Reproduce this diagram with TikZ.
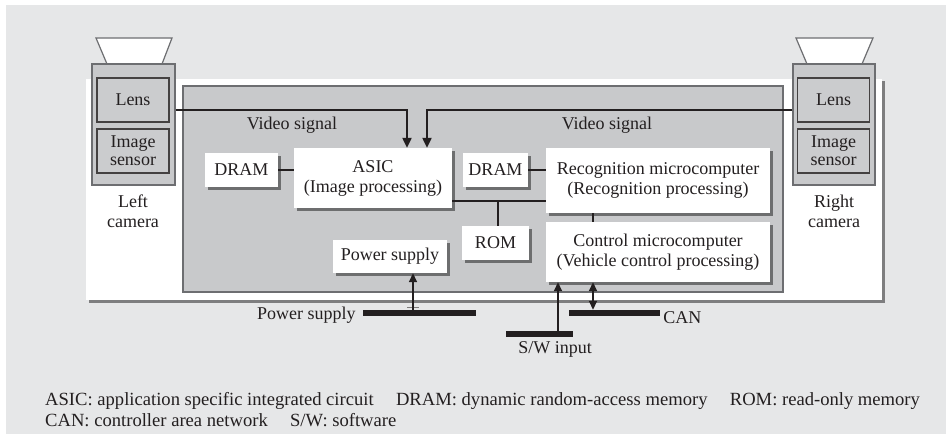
\documentclass[tikz,border=0pt]{standalone}
\usepackage{fontspec}
\setmainfont{Liberation Serif}
\usetikzlibrary{shadows,arrows.meta,calc}
\definecolor{bggray}{HTML}{E6E7E8}
\definecolor{midgray}{HTML}{C8C9CB}
\definecolor{lensgray}{HTML}{CBCCCE}
\definecolor{edgegray}{HTML}{6D6E71}
\definecolor{ink}{HTML}{231F20}
\begin{document}
\begin{tikzpicture}[x=1pt,y=-1pt,
  font=\fontsize{18}{20}\selectfont, text=ink,
  wbox/.style={fill=white, inner sep=0pt, align=center,
    drop shadow={shadow xshift=2.5pt, shadow yshift=-2.5pt, opacity=0.45, fill=black}},
  cambox/.style={fill=midgray, draw=edgegray, line width=1.3pt, inner sep=0pt},
  lensbox/.style={fill=lensgray, draw=ink!85, line width=1.3pt, inner sep=0pt, align=center,
    minimum width=72pt, minimum height=44pt},
  trap/.style={fill=white, draw=edgegray, line width=1.2pt},
  lbl/.style={inner sep=0pt, align=center},
  fnote/.style={inner sep=0pt, anchor=base west, font=\fontsize{18.6}{21}\selectfont},
  conn/.style={draw=ink, line width=2.2pt},
  sig/.style={draw=ink, line width=2.2pt, -{Triangle[length=10pt,width=9pt]}},
  parr/.style={draw=ink, line width=1.6pt, -{Triangle[length=9pt,width=8pt]}},
  dparr/.style={draw=ink, line width=1.6pt, {Triangle[length=9pt,width=8pt]}-{Triangle[length=9pt,width=8pt]}},
  busbar/.style={fill=ink, inner sep=0pt, minimum height=6pt}
]
\useasboundingbox (0,0) rectangle (946,436);
\fill[white] (0,0) rectangle (946,436);
\fill[bggray] (6,5) rectangle (946,434);

% white panel and inner unit
\node[fill=white, inner sep=0pt, minimum width=796pt, minimum height=221pt,
  drop shadow={shadow xshift=2.5pt, shadow yshift=-2.5pt, opacity=0.45, fill=black}] (panel) at (484,189.5) {};
\node[fill=midgray, draw=edgegray, line width=1.2pt, inner sep=0pt, minimum width=600pt, minimum height=206pt] (unit) at (483,189) {};

% cameras
\draw[trap] (96,38) -- (172,38) -- (162,64) -- (107,64) -- cycle;
\draw[trap] (796,38) -- (873,38) -- (862,64) -- (807,64) -- cycle;
\node[cambox, minimum width=83pt, minimum height=121pt] (lcam) at (133.5,124.5) {};
\node[cambox, minimum width=82pt, minimum height=121pt] (rcam) at (834,124.5) {};
\node[lensbox] (llens) at (133,100) {Lens};
\node[lensbox] (lsens) at (133,151) {Image\\[-2pt]sensor};
\node[lensbox] (rlens) at (833.5,100) {Lens};
\node[lensbox] (rsens) at (833.5,151) {Image\\[-2pt]sensor};
\node[lbl] (lcaml) at (133,211) {Left\\camera};
\node[lbl] (rcaml) at (834,211) {Right\\camera};

% boxes
\node[wbox, minimum width=158pt, minimum height=60pt] (asic) at (373,178) {ASIC\\(Image processing)};
\node[wbox, minimum width=73pt, minimum height=34pt] (draml) at (241.5,170) {DRAM};
\node[wbox, minimum width=65pt, minimum height=34pt] (dramr) at (495.5,170) {DRAM};
\node[wbox, minimum width=224pt, minimum height=65pt] (recog) at (658,180.5) {Recognition microcomputer\\(Recognition processing)};
\node[wbox, minimum width=224pt, minimum height=60pt] (ctrl) at (658,252) {Control microcomputer\\(Vehicle control processing)};
\node[wbox, minimum width=67pt, minimum height=34pt] (rom) at (495.5,243) {ROM};
\node[wbox, minimum width=114pt, minimum height=33pt] (psup) at (390,256.5) {Power supply};

% video signals
\node[lbl] (vsl) at (292,125) {Video signal};
\node[lbl] (vsr) at (607,125) {Video signal};
\draw[sig] ([yshift=14.5pt]lcam.east) -| ([xshift=34pt]asic.north);
\draw[sig] ([yshift=14.5pt]rcam.west) -| ([xshift=54pt]asic.north);

% internal connections
\draw[conn] (draml.east) -- (asic.west |- draml.east);
\draw[conn] (dramr.east) -- (recog.west |- dramr.east);
\coordinate (bus) at ([yshift=-23pt]asic.east);
\draw[conn] (bus) -- (bus -| recog.west);
\draw[conn] ([xshift=2.5pt]rom.north) -- ([xshift=2.5pt]rom.north |- bus);
\draw[conn] ([xshift=-65pt]recog.south) -- ([xshift=-65pt]ctrl.north);

% external buses
\node[busbar, minimum width=113pt] (pbar) at (419.5,313) {};
\node[busbar, minimum width=67pt] (swbar) at (539.5,334) {};
\node[busbar, minimum width=91pt] (canbar) at (614.5,313) {};
\node[lbl, anchor=east] (pl) at ([xshift=-7pt,yshift=-2pt]pbar.west) {Power supply};
\node[lbl, anchor=west] (canl) at ([xshift=3pt,yshift=-5pt]canbar.east) {CAN};
\node[lbl] (swl) at (555,349) {S/W input};

\coordinate (pp) at ([xshift=23pt]psup.south);
\draw[draw=ink!60, line width=0.8pt] ([xshift=-6pt,yshift=2pt]pp |- pbar.north) -- ([xshift=6pt,yshift=2pt]pp |- pbar.north);
\draw[parr] (pp |- pbar.north) -- (pp);
\coordinate (swp) at ([xshift=-100pt]ctrl.south);
\draw[parr] (swp |- swbar.north) -- (swp);
\coordinate (canp) at ([xshift=-65pt]ctrl.south);
\draw[dparr] (canp) -- (canp |- canbar.north);

% footnote
\node[fnote] (fn1) at (45,405) {ASIC: application specific integrated circuit\hspace{1.2em}DRAM: dynamic random-access memory\hspace{1.2em}ROM: read-only memory};
\node[fnote] (fn2) at (45,426) {CAN: controller area network\hspace{1.2em}S/W: software};
\end{tikzpicture}
\end{document}
